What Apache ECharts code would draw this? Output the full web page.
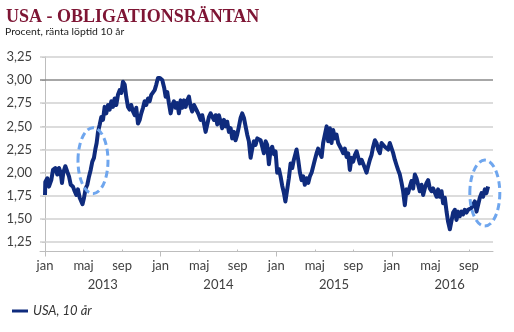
<!DOCTYPE html>
<html>
<head>
<meta charset="utf-8">
<script src="https://cdn.jsdelivr.net/npm/echarts@6/dist/echarts.min.js"></script>
<style>
html,body{margin:0;padding:0;background:#fff;}
#chart{width:514px;height:332px;}
</style>
</head>
<body>
<div id="chart"></div>
<script>
// ---- data (x = months since 1 Jan 2013, y = 10y US yield in %) ----
const months = [
0.00,0.03,0.24,0.41,0.65,0.83,1.07,1.28,1.45,1.63,1.76,1.90,2.11,2.31,2.49,2.67,2.90,3.08,3.25,3.42,
3.60,3.77,3.89,4.05,4.22,4.39,4.57,4.74,4.91,5.08,5.22,5.36,5.50,5.68,5.84,6.02,6.19,6.36,6.54,6.71,
6.88,7.05,7.23,7.40,7.57,7.75,7.92,8.09,8.27,8.43,8.61,8.79,8.95,9.13,9.31,9.47,9.65,9.83,9.99,10.17,
10.34,10.51,10.69,10.86,11.03,11.20,11.38,11.55,11.72,11.93,12.17,12.38,12.52,12.69,12.86,13.04,13.21,13.38,13.56,13.73,
13.90,14.08,14.24,14.42,14.60,14.76,14.94,15.12,15.28,15.46,15.63,15.80,15.98,16.15,16.32,16.50,16.67,16.84,17.01,17.19,
17.36,17.53,17.71,17.88,18.05,18.23,18.39,18.57,18.75,18.91,19.09,19.27,19.43,19.61,19.78,19.95,20.13,20.30,20.47,20.65,
20.82,20.99,21.16,21.34,21.51,21.68,21.86,22.03,22.20,22.38,22.54,22.72,22.90,23.06,23.24,23.42,23.58,23.76,23.93,24.10,
24.28,24.45,24.62,24.80,24.95,25.14,25.31,25.49,25.66,25.83,26.01,26.11,26.28,26.46,26.63,26.80,26.97,27.15,27.32,27.49,
27.67,27.84,28.01,28.19,28.35,28.53,28.71,28.87,29.05,29.23,29.39,29.57,29.74,29.91,30.09,30.26,30.43,30.61,30.78,30.95,
31.12,31.30,31.47,31.64,31.82,31.99,32.16,32.34,32.50,32.68,32.86,33.02,33.20,33.37,33.54,33.72,33.89,34.06,34.24,34.41,
34.58,34.76,34.93,35.10,35.27,35.45,35.62,35.79,35.97,36.14,36.31,36.49,36.65,36.83,37.01,37.17,37.35,37.52,37.69,37.87,
38.04,38.21,38.39,38.56,38.73,38.90,39.08,39.25,39.42,39.60,39.77,39.94,40.12,40.29,40.46,40.64,40.80,40.98,41.16,41.32,
41.50,41.68,41.84,42.02,42.19,42.36,42.54,42.71,42.88,43.05,43.23,43.40,43.57,43.75,43.92,44.09,44.27,44.44,44.61,44.79,
44.95,45.13,45.31,45.47,45.65,45.82,45.99
];
const yields = [
1.76,1.90,1.94,1.85,1.92,2.03,2.05,1.98,2.05,2.00,1.89,2.00,2.07,2.01,1.96,1.87,1.85,1.80,1.76,1.82,
1.73,1.74,1.66,1.73,1.83,1.87,1.96,2.03,2.12,2.16,2.25,2.32,2.44,2.52,2.60,2.57,2.71,2.64,2.73,2.68,
2.77,2.71,2.80,2.73,2.84,2.89,2.86,2.98,2.95,2.82,2.71,2.68,2.73,2.66,2.62,2.70,2.53,2.57,2.64,2.70,
2.77,2.73,2.80,2.77,2.84,2.86,2.89,2.95,3.02,3.02,3.00,2.91,2.82,2.87,2.75,2.64,2.73,2.77,2.70,2.75,
2.64,2.78,2.70,2.78,2.71,2.78,2.82,2.71,2.66,2.73,2.71,2.66,2.62,2.57,2.62,2.53,2.44,2.52,2.60,2.64,
2.66,2.57,2.62,2.52,2.62,2.55,2.48,2.57,2.50,2.55,2.44,2.48,2.37,2.44,2.35,2.41,2.50,2.59,2.64,2.59,
2.50,2.41,2.34,2.16,2.26,2.34,2.30,2.37,2.39,2.35,2.37,2.21,2.34,2.30,2.09,2.25,2.28,2.20,2.23,2.00,
2.04,1.96,1.86,1.78,1.69,1.82,1.94,2.10,2.05,2.14,2.21,2.25,2.14,2.00,1.92,1.96,1.87,1.94,1.89,1.96,
2.00,2.07,2.14,2.21,2.26,2.21,2.17,2.32,2.41,2.50,2.34,2.48,2.32,2.46,2.37,2.41,2.32,2.34,2.25,2.21,
2.26,2.17,2.21,2.03,2.16,2.12,2.19,2.23,2.21,2.10,2.14,2.12,2.05,2.00,2.07,2.14,2.19,2.28,2.35,2.32,
2.25,2.21,2.32,2.34,2.28,2.30,2.25,2.32,2.30,2.21,2.14,2.08,2.03,1.98,1.89,1.80,1.65,1.82,1.78,1.85,
1.91,1.83,1.98,1.94,1.87,1.80,1.87,1.76,1.83,1.89,1.92,1.83,1.80,1.83,1.82,1.74,1.82,1.74,1.80,1.67,
1.73,1.58,1.47,1.39,1.40,1.57,1.60,1.49,1.58,1.53,1.58,1.55,1.60,1.57,1.60,1.58,1.62,1.60,1.69,1.58,
1.57,1.73,1.78,1.74,1.82,1.78,1.85
];
const seriesName = 'USA, 10 år';
const yTicks = [1.25,1.50,1.75,2.00,2.25,2.50,2.75,3.00,3.25];
const monthTicks = [0,4,8,12,16,20,24,28,32,36,40,44];
const monthLabels = ['jan','maj','sep','jan','maj','sep','jan','maj','sep','jan','maj','sep'];
const yearTicks = [6,18,30,42];
const yearLabels = ['2013','2014','2015','2016'];
const yearStarts = [0,12,24,36];
const minorTicks = [4,8,16,20,28,32,40,44];
// highlight rings (month, value)
const ringMonths = [4.98, 45.65];
const ringValues = [2.13, 1.78];

const X_MIN = -0.52, X_MAX = 46.5;
const labelFont = {fontFamily:'Lato', fontSize:13, color:'#404040'};
const axisGray = '#bdbdbd';

const chart = echarts.init(document.getElementById('chart'), null, {renderer:'canvas'});
const points = months.map((m,i)=>[m, yields[i]]);

chart.setOption({
  animation:false,
  backgroundColor:'#ffffff',
  title:[
    {text:'USA - OBLIGATIONSRÄNTAN', left:6, top:8, padding:0,
     textStyle:{fontFamily:'Liberation Serif', fontWeight:'bold', fontSize:18, color:'#7e1534'}},
    {text:'Procent, ränta löptid 10 år', left:5, top:27, padding:0,
     textStyle:{fontFamily:'Lato', fontWeight:'normal', fontSize:10.4, color:'#222'}}
  ],
  legend:{
    left:12, top:304, padding:0, itemWidth:16, itemHeight:3, icon:'rect',
    data:[seriesName],
    textStyle:{fontFamily:'Lato', fontStyle:'italic', fontSize:13, color:'#333', lineHeight:14}
  },
  grid:{left:40, right:21, top:56.8, bottom:80.5, containLabel:false},
  xAxis:[
    {type:'value', min:X_MIN, max:X_MAX, position:'bottom',
     axisLine:{show:true, lineStyle:{color:axisGray, width:1}},
     axisTick:{show:true, customValues:yearStarts, length:5, lineStyle:{color:axisGray}},
     axisLabel:{customValues:monthTicks, margin:8, ...labelFont,
       formatter:(v)=>monthLabels[monthTicks.indexOf(v)]},
     splitLine:{show:false}},
    {type:'value', min:X_MIN, max:X_MAX, position:'bottom',
     axisLine:{show:false}, axisTick:{show:false},
     axisLabel:{customValues:yearTicks, margin:27, ...labelFont,
       formatter:(v)=>yearLabels[yearTicks.indexOf(v)]},
     splitLine:{show:false}},
    {type:'value', min:X_MIN, max:X_MAX, position:'bottom',
     axisLine:{show:false},
     axisTick:{show:true, inside:true, customValues:minorTicks, length:2, lineStyle:{color:axisGray}},
     axisLabel:{show:false}, splitLine:{show:false}}
  ],
  yAxis:{
    type:'value', min:1.15, max:3.25,
    axisLine:{show:true, lineStyle:{color:axisGray, width:1}},
    axisTick:{show:true, customValues:yTicks, length:3, lineStyle:{color:axisGray}},
    axisLabel:{customValues:yTicks, margin:8, ...labelFont,
      formatter:(v)=>v.toFixed(2).replace('.', ',')},
    splitLine:{show:false}
  },
  series:[{
    name:seriesName, type:'line', xAxisIndex:0, yAxisIndex:0,
    data:points, showSymbol:false, symbol:'none', z:3,
    lineStyle:{color:'#0f2b7d', width:4, join:'round'},
    itemStyle:{color:'#0f2b7d'},
    markLine:{
      silent:true, symbol:['none','none'], z:1, label:{show:false},
      data: yTicks.map(v=>({yAxis:v, lineStyle: v===3 ?
        {color:'#8a8a8a', width:1.5, type:'solid'} :
        {color:'#d0d0d0', width:1.5, type:'solid'}}))
    }
  }]
});

const rings = ringMonths.map((m,i)=>{
  const p = chart.convertToPixel({xAxisIndex:0, yAxisIndex:0}, [m, ringValues[i]]);
  return {type:'ellipse', z:10, silent:true,
    shape:{cx:p[0], cy:p[1], rx:15, ry:33},
    style:{fill:'none', stroke:'#6fa6ee', lineWidth:3, lineDash:[7,4]}};
});
chart.setOption({graphic:rings});
</script>
</body>
</html>
